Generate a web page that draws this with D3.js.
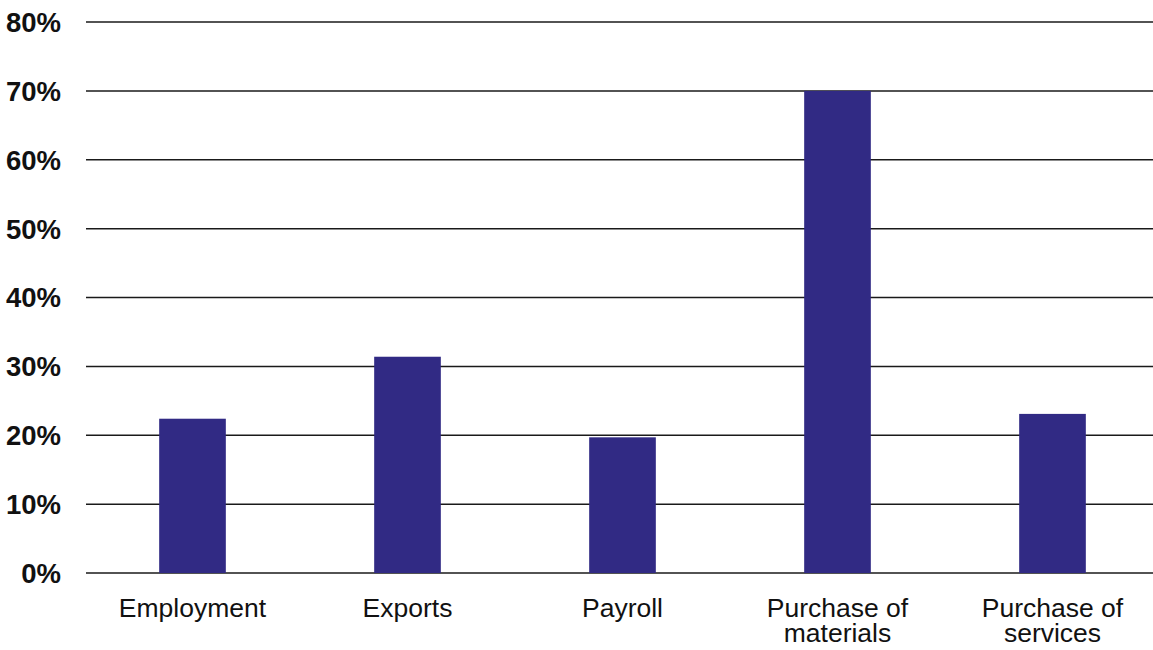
<!DOCTYPE html>
<html>
<head>
<meta charset="utf-8">
<script src="https://cdn.jsdelivr.net/npm/d3@7"></script>
<style>
body{margin:0;background:#fff}
svg{display:block}
</style>
</head>
<body>
<div id="chart"></div>
<script>
const categories=[["Employment"],["Exports"],["Payroll"],["Purchase of","materials"],["Purchase of","services"]]
const values=[22.4,31.4,19.7,70,23.1]
const yTicks=[0,10,20,30,40,50,60,70,80]

const width=1153
const height=650

const svg=d3.select("#chart")
.append("svg")
.attr("width",width)
.attr("height",height)

const x=d3.scaleBand()
.domain(d3.range(categories.length))
.range([85,1160])
.paddingInner(0.69)
.paddingOuter(0.345)

const y=d3.scaleLinear()
.domain([0,80])
.range([573,22])

// gridlines
svg.append("g")
.selectAll("line")
.data(yTicks)
.enter()
.append("line")
.attr("x1",86)
.attr("x2",width)
.attr("y1",d=>y(d))
.attr("y2",d=>y(d))
.attr("stroke","#1a1a1a")
.attr("stroke-width",1.5)

// y labels
svg.append("g")
.selectAll("text")
.data(yTicks)
.enter()
.append("text")
.attr("x",61)
.attr("y",d=>y(d))
.attr("dy","0.36em")
.attr("text-anchor","end")
.attr("font-family","Liberation Sans, Arial, sans-serif")
.attr("font-weight","bold")
.attr("font-size",27.5)
.attr("fill","#111")
.text(d=>d+"%")

// bars
svg.append("g")
.selectAll("rect")
.data(values)
.enter()
.append("rect")
.attr("x",(d,i)=>x(i))
.attr("width",x.bandwidth())
.attr("y",d=>y(d))
.attr("height",d=>y(0)-y(d))
.attr("fill","#312a84")

// category labels
const labels=svg.append("g")
.selectAll("text")
.data(categories)
.enter()
.append("text")
.attr("text-anchor","middle")
.attr("font-family","Liberation Sans, Arial, sans-serif")
.attr("font-size",26.5)
.attr("fill","#111")

labels.selectAll("tspan")
.data((d,i)=>d.map(t=>({t,i})))
.enter()
.append("tspan")
.attr("x",d=>x(d.i)+x.bandwidth()/2)
.attr("y",(d,j)=>617+j*25)
.text(d=>d.t)
</script>
</body>
</html>
